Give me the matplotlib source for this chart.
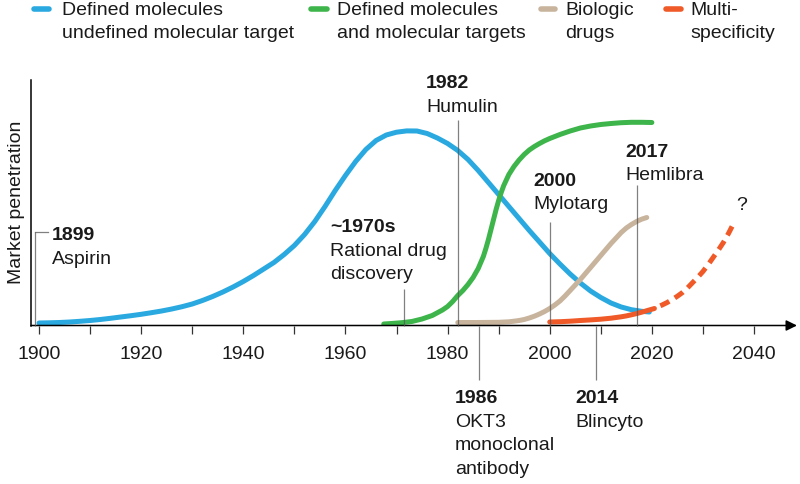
import matplotlib
matplotlib.use("Agg")
import matplotlib.pyplot as plt
from matplotlib.lines import Line2D

# market penetration in arbitrary units
blue_years = [1900, 1902, 1904, 1906, 1908, 1910, 1912, 1914, 1916, 1918, 1920, 1922,
              1924, 1926, 1928, 1930, 1932, 1934, 1936, 1938, 1940, 1942, 1944, 1946,
              1948, 1950, 1952, 1954, 1956, 1958, 1960, 1962, 1964, 1966, 1968, 1970,
              1972, 1974, 1976, 1978, 1980, 1982, 1984, 1986, 1988, 1990, 1992, 1994,
              1996, 1998, 2000, 2002, 2004, 2006, 2008, 2010, 2012, 2014, 2016, 2018,
              2019.5]
blue_vals = [2.5, 2.7, 3, 3.5, 4.2, 5, 6, 7.2, 8.5, 9.8, 11.2, 12.8,
             14.5, 16.5, 18.8, 21.5, 25, 29, 33.5, 38.5, 44, 50, 56.5, 63,
             71, 80, 91, 104, 119, 135, 150, 164, 176, 185, 190.5, 193.3,
             194.6, 194.5, 192, 187.5, 182, 175, 166, 155, 143, 131, 119, 107,
             95, 83.5, 72, 61.5, 51.5, 42.5, 34.5, 28, 22.5, 18.5, 15.8, 14.2,
             13.5]

green_years = [1967.5, 1969, 1971, 1973, 1975, 1977, 1979, 1980, 1981, 1982, 1983, 1984,
               1985, 1986, 1987, 1987.5, 1988, 1988.5, 1989, 1989.5, 1990, 1990.5, 1991,
               1992, 1993, 1994, 1995, 1996, 1997, 1998, 1999, 2000, 2002, 2004, 2006,
               2008, 2010, 2012, 2014, 2016, 2018, 2020]
green_vals = [1.5, 2, 2.8, 4, 6.5, 10, 15.5, 19, 24, 30, 35, 41,
              48, 57, 69, 77, 86, 96, 106, 116, 125, 133, 140,
              151, 159, 165.5, 171, 175.5, 179, 182, 184.7, 187, 191, 194.5, 197.5,
              199.5, 201, 202, 202.8, 203.2, 203.2, 203]

beige_years = [1982, 1986, 1990, 1992, 1993, 1994, 1995, 1996, 1997, 1998, 1999, 2000,
               2001, 2002, 2003, 2004, 2005, 2006, 2007, 2008, 2009, 2010, 2011, 2012,
               2013, 2014, 2015, 2016, 2017, 2018, 2019]
beige_vals = [3, 3, 3.2, 3.7, 4.3, 5, 6, 7.5, 9.3, 11.5, 14, 17,
              20.5, 24.5, 29.5, 35, 40.5, 46, 52, 58, 64, 70, 76, 82,
              87.5, 93, 97.5, 101, 104, 106.3, 108]

orange_years = [2000, 2002, 2004, 2006, 2008, 2010, 2012, 2014, 2015, 2016, 2017, 2018,
                2019, 2020.5]
orange_vals = [3.5, 3.8, 4.3, 5, 5.6, 6.3, 7.3, 8.7, 9.6, 10.7, 11.9, 13.3,
               14.8, 17]

forecast_years = [2020.5, 2022, 2023, 2024, 2025, 2026, 2027, 2028, 2029, 2030, 2031,
                  2032, 2033, 2034, 2035, 2036]
forecast_vals = [17, 20.5, 23, 26, 29.3, 33, 37.7, 43, 48.3, 54, 60.7,
                 68, 75.3, 83, 92, 102]

legend_labels = ["Defined molecules\nundefined molecular target",
                 "Defined molecules\nand molecular targets",
                 "Biologic\ndrugs",
                 "Multi-\nspecificity"]
colors = ["#29A9E0", "#3DB54A", "#C8B49D", "#EF5A28"]

event_years = ["1899", "~1970s", "1982", "2000", "2017", "1986", "2014"]
event_names = ["Aspirin", "Rational drug\ndiscovery", "Humulin", "Mylotarg", "Hemlibra",
               "OKT3\nmonoclonal\nantibody", "Blincyto"]

plt.rcParams["font.family"] = ["Liberation Sans", "DejaVu Sans"]
W, H = 800, 484
fig = plt.figure(figsize=(W / 100, H / 100), dpi=100)

# axes placed so that 1900 sits at 39px and the baseline at 325.5px
ax = fig.add_axes([31 / W, 1 - 325.5 / H, 766 / W, 245.5 / H])
ax.set_xlim(1898.43, 2048.42)
ax.set_ylim(0, 245.5)

lw = 3.6
style = dict(lw=lw, solid_capstyle="round", solid_joinstyle="round")
ax.plot(blue_years, blue_vals, color=colors[0], zorder=3, **style)
ax.plot(green_years, green_vals, color=colors[1], zorder=4, **style)
ax.plot(beige_years, beige_vals, color=colors[2], zorder=5, **style)
ax.plot(orange_years, orange_vals, color=colors[3], zorder=6, **style)
ax.plot(forecast_years, forecast_vals, color=colors[3], lw=lw,
        linestyle=(2.0, (2.0, 1.3)), dash_capstyle="butt", dash_joinstyle="round",
        zorder=6)

for s in ["top", "right", "bottom"]:
    ax.spines[s].set_visible(False)
ax.spines["left"].set_linewidth(1.1)
ax.spines["left"].set_color("black")
ax.set_yticks([])

ax.set_xticks(range(1900, 2041, 10))
ax.set_xticklabels([str(y) if y % 20 == 0 else "" for y in range(1900, 2041, 10)])
ax.tick_params(axis="x", length=5.5, width=0.9, color="#333333", pad=9.5,
               labelsize=14, labelcolor="#1a1a1a")

ax.annotate("", xy=(2048.42, 0), xytext=(1898.43, 0), annotation_clip=False,
            arrowprops=dict(arrowstyle="-|>,head_length=0.65,head_width=0.32",
                            lw=1.1, color="black", shrinkA=0, shrinkB=0), zorder=7)

ax.set_ylabel("Market penetration", fontsize=14, color="#1a1a1a", labelpad=4)

# leader lines: (x, top, bottom)
leaders = [(1899.2, 93.5, 0), (1971.5, 36.5, 0), (1982.1, 205.5, 0), (2000.0, 104, 0),
           (2017.1, 140.5, 0), (1986.2, 0, -54.5), (2009.1, 0, -54.5)]
for x, top, bot in leaders:
    ax.plot([x, x], [bot, top], color="#555555", lw=0.9, alpha=0.75, zorder=8,
            clip_on=False, solid_capstyle="butt")
ax.plot([1899.2, 1901.8], [93.5, 93.5], color="#555555", lw=0.9, alpha=0.75,
        zorder=8, clip_on=False)

# text blocks: left px, first baseline px
text_pos = [(52, 240), (330, 232.3), (426, 88.3), (533, 185.7), (625, 156.7),
            (455, 403.3), (575, 403.3)]
step = 23.5
for (px, py), yr, name in zip(text_pos, event_years, event_names):
    fig.text(px / W, 1 - py / H, yr, fontsize=14, fontweight="bold",
             color="#1a1a1a", va="baseline", ha="left")
    for i, line in enumerate(name.split("\n")):
        fig.text(px / W, 1 - (py + step * (i + 1)) / H, line, fontsize=14,
                 color="#1a1a1a", va="baseline", ha="left")

fig.text(736 / W, 1 - 210 / H, "?", fontsize=14, color="#1a1a1a", va="baseline")

# legend
leg_marker_x = [(34, 49), (311, 327), (541, 555), (666, 681)]
leg_text_x = [62, 337, 565, 690]
for (x0, x1), tx, lab, c in zip(leg_marker_x, leg_text_x, legend_labels, colors):
    fig.add_artist(Line2D([x0 / W, x1 / W], [1 - 9 / H, 1 - 9 / H], color=c,
                          lw=4, solid_capstyle="round", transform=fig.transFigure))
    for i, line in enumerate(lab.split("\n")):
        fig.text(tx / W, 1 - (15 + 23.3 * i) / H, line, fontsize=14,
                 color="#1a1a1a", va="baseline", ha="left")

fig.savefig("out.png", dpi=100)
